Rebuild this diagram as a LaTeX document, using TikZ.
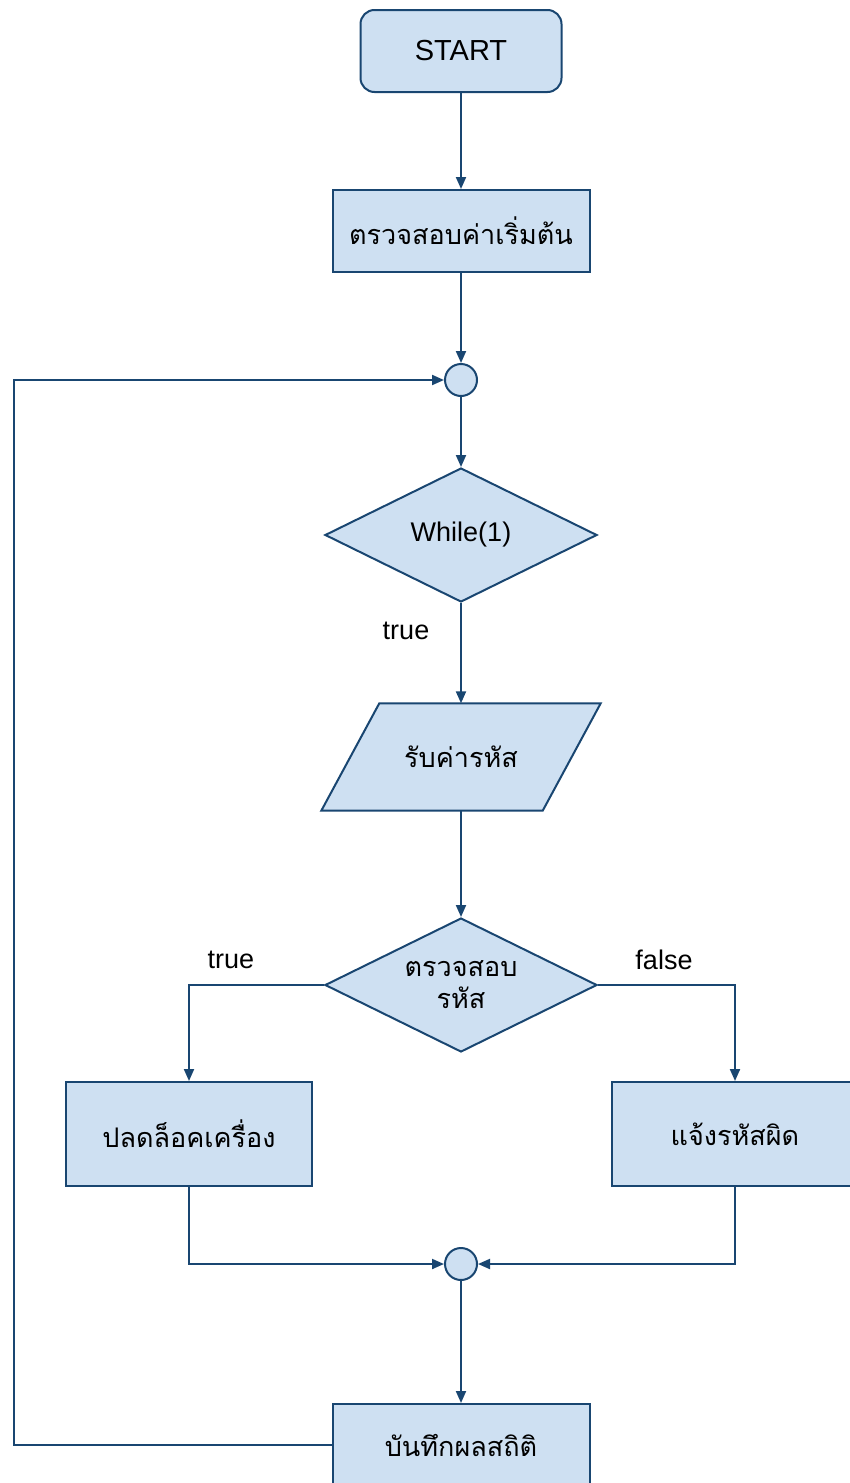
\documentclass[tikz,border=0pt]{standalone}
\usepackage{fontspec}
\setmainfont{Liberation Sans}
\newfontfamily\thaifont[Script=Thai]{Loma}
\usetikzlibrary{shapes.geometric,arrows.meta}
\definecolor{fillc}{RGB}{206,224,242}
\definecolor{linec}{RGB}{25,70,113}
\begin{document}
\begin{tikzpicture}[x=1pt,y=-1pt,
  base/.style={draw=linec,fill=fillc,line width=2pt,inner sep=0pt,font=\fontsize{27}{31}\selectfont},
  startbox/.style={base,rectangle,rounded corners=14pt,minimum width=201pt,minimum height=82pt,font=\fontsize{29}{33}\selectfont},
  procbox/.style={base,rectangle,minimum width=257pt,minimum height=82pt},
  sidebox/.style={base,rectangle,minimum width=246pt,minimum height=104pt},
  joint/.style={base,circle,minimum size=32pt},
  decision/.style={base,diamond,minimum width=272pt,minimum height=134pt,align=center},
  iobox/.style={rectangle,inner sep=0pt,minimum width=221pt,minimum height=107pt},
  lbl/.style={font=\fontsize{27}{31}\selectfont,inner sep=0pt},
  th/.style={font=\thaifont\fontsize{27}{31}\selectfont},
  arr/.style={draw=linec,line width=2pt,-{Triangle[length=12pt,width=10pt]}}
]
\useasboundingbox (0,0) rectangle (849,1483);
\fill[white] (0,0) rectangle (849,1483);

\node[startbox] (start) at (461,51) {START};
\node[procbox,th] (init) at (461,231) {ตรวจสอบค่าเริ่มต้น};
\node[joint] (j1) at (461,380) {};
\node[decision] (w) at (461,535) {While(1)};
\node[lbl] (t1) at (406,631) {true};
\node[iobox] (in) at (461,757) {};
\draw[draw=linec,fill=fillc,line width=2pt]
  ([xshift=29pt]in.north west) -- ([xshift=29pt]in.north east) --
  ([xshift=-29pt]in.south east) -- ([xshift=-29pt]in.south west) -- cycle;
\node[th,inner sep=0pt] (intext) at (in.center) {รับค่ารหัส};
\node[decision,label={[th,align=center,inner sep=0pt]center:ตรวจสอบ\\[1pt]รหัส}] (chk) at (461,985) {};
\node[lbl] (t2) at (231,960) {true};
\node[lbl] (f2) at (664,960) {false};
\node[sidebox,th] (ok) at (189,1134) {ปลดล็อคเครื่อง};
\node[sidebox,th] (bad) at (735,1134) {แจ้งรหัสผิด};
\node[joint] (j2) at (461,1264) {};
\node[procbox,th] (save) at (461,1445) {บันทึกผลสถิติ};
\coordinate (lp) at (14,1445);

\draw[arr] (start) -- (init);
\draw[arr] (init) -- (j1);
\draw[arr] (j1) -- (w);
\draw[arr] (w) -- (in);
\draw[arr] (in) -- (chk);
\draw[arr] (chk.west) -| (ok.north);
\draw[arr] (chk.east) -| (bad.north);
\draw[arr] (ok.south) |- (j2.west);
\draw[arr] (bad.south) |- (j2.east);
\draw[arr] (j2) -- (save);
\draw[arr] (save.west) -- (lp) |- (j1.west);
\end{tikzpicture}
\end{document}
